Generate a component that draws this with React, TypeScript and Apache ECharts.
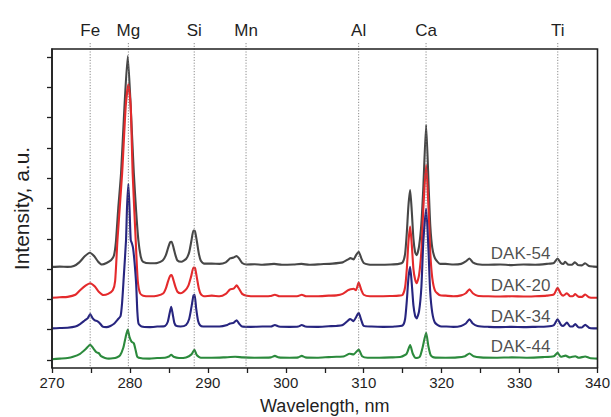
import React, { useEffect, useRef } from 'react';
import * as echarts from 'echarts';

const FONT = '"Liberation Sans", Arial, Helvetica, sans-serif';

const SERIES_NAMES = ['DAK-54', 'DAK-20', 'DAK-34', 'DAK-44'];
const SERIES_COLORS = ['#474747', '#e42a2c', '#27257f', '#2b8a3c'];

const ELEMENT_NAMES = ['Fe', 'Mg', 'Si', 'Mn', 'Al', 'Ca', 'Ti'];
const ELEMENT_LINES = [274.9, 279.8, 288.25, 294.9, 309.35, 318.0, 334.9];

const X_MIN = 270;
const X_MAX = 340;
const Y_MIN = -0.27;
const Y_MAX = 10.27;
const Y_TICKS = [0, 1, 2, 3, 4, 5, 6, 7, 8, 9, 10];

// Labels: [wavelength at right edge, intensity at text centre]
const LABEL_X = 333.95;
const LABEL_Y = [3.52, 2.47, 1.42, 0.43];

const DAK54: [number, number][] = [
  [270, 3.07], [271, 3.08], [272, 3.07], [272.8, 3.1], [273.5, 3.22], [274.2, 3.42], [274.85, 3.54],
  [275.4, 3.43], [275.9, 3.25], [276.4, 3.15], [277.0, 3.2], [277.6, 3.3], [277.95, 3.45], [278.2, 3.9],
  [278.5, 5.0], [278.86, 6.16], [279.3, 8.37], [279.72, 10.04], [280.1, 8.37], [280.5, 6.16],
  [280.8, 4.9], [281.08, 3.96], [281.4, 3.4], [281.7, 3.24], [282.6, 3.19], [283.5, 3.2], [284.2, 3.28],
  [284.6, 3.45], [284.9, 3.7], [285.15, 3.88], [285.35, 3.9], [285.6, 3.7], [285.85, 3.45], [286.1, 3.28],
  [286.6, 3.24], [287.2, 3.33], [287.6, 3.55], [287.9, 3.95], [288.15, 4.27], [288.35, 4.25], [288.6, 3.9],
  [288.85, 3.5], [289.1, 3.27], [289.5, 3.18], [290.5, 3.18], [291.5, 3.17], [292.3, 3.22],
  [292.85, 3.35], [293.3, 3.38], [293.7, 3.43], [294.0, 3.35], [294.4, 3.2], [295, 3.15], [296, 3.16],
  [297, 3.14], [298.5, 3.17], [299.5, 3.14], [301, 3.15], [302, 3.17], [303, 3.14], [304.5, 3.16],
  [306, 3.18], [307.3, 3.22], [308.0, 3.32], [308.3, 3.36], [308.7, 3.32], [309.0, 3.45], [309.35, 3.57],
  [309.7, 3.35], [310.0, 3.2], [310.6, 3.15], [312, 3.14], [313.5, 3.15], [314.5, 3.17], [315.0, 3.22],
  [315.31, 3.5], [315.53, 4.2], [315.74, 5.1], [315.96, 5.61], [316.17, 4.9], [316.38, 4.0], [316.6, 3.55],
  [316.8, 3.46], [317.1, 3.75], [317.4, 4.5], [317.65, 5.7], [318.01, 7.76], [318.35, 5.6], [318.55, 4.4],
  [318.8, 3.7], [319.16, 3.35], [319.8, 3.17], [320.5, 3.17], [321.5, 3.15], [322.5, 3.17], [323.1, 3.25],
  [323.57, 3.35], [324.0, 3.22], [324.6, 3.16], [326, 3.14], [327.5, 3.15], [329, 3.13], [330.5, 3.15],
  [332, 3.14], [333.5, 3.17], [334.4, 3.2], [334.87, 3.35], [335.3, 3.2], [335.6, 3.17], [335.85, 3.24],
  [336.2, 3.15], [336.7, 3.14], [337.1, 3.22], [337.5, 3.13], [338.0, 3.12], [338.4, 3.19], [338.9, 3.1],
  [339.5, 3.08], [340, 3.07],
];

const DAK20: [number, number][] = [
  [270, 2.05], [271, 2.07], [272, 2.08], [273, 2.15], [273.6, 2.3], [274.3, 2.45], [274.9, 2.53],
  [275.5, 2.42], [276.0, 2.25], [276.6, 2.14], [277.2, 2.18], [277.8, 2.3], [278.1, 2.6], [278.4, 3.96],
  [279.0, 6.16], [279.46, 8.37], [279.8, 9.1], [280.1, 8.37], [280.35, 6.16], [280.74, 3.96], [281.0, 2.63],
  [281.3, 2.2], [281.7, 2.12], [282.6, 2.1], [283.5, 2.12], [284.3, 2.2], [284.6, 2.35], [284.9, 2.6],
  [285.15, 2.77], [285.35, 2.8], [285.6, 2.62], [285.85, 2.4], [286.1, 2.25], [286.5, 2.2], [287.1, 2.3],
  [287.5, 2.45], [287.85, 2.75], [288.15, 3.05], [288.35, 3.04], [288.6, 2.7], [288.85, 2.35],
  [289.1, 2.17], [289.5, 2.1], [290.5, 2.12], [291.5, 2.1], [292.3, 2.18], [292.85, 2.33], [293.3, 2.35],
  [293.7, 2.46], [294.0, 2.35], [294.4, 2.18], [295, 2.12], [296.5, 2.1], [298, 2.11], [298.6, 2.15],
  [299.2, 2.1], [300.5, 2.1], [301.6, 2.11], [302.05, 2.15], [302.6, 2.1], [304, 2.1], [305.5, 2.12],
  [306.5, 2.13], [307.3, 2.18], [308.0, 2.3], [308.3, 2.33], [308.7, 2.35], [309.0, 2.3], [309.35, 2.55],
  [309.7, 2.3], [310.0, 2.15], [310.8, 2.1], [312, 2.1], [313.5, 2.11], [314.5, 2.12], [315.0, 2.15],
  [315.31, 2.4], [315.53, 3.0], [315.74, 3.9], [315.96, 4.4], [316.17, 3.8], [316.38, 3.0], [316.6, 2.65],
  [316.8, 2.53], [317.1, 2.8], [317.4, 3.6], [317.65, 5.0], [318.01, 6.44], [318.35, 4.8], [318.55, 3.5],
  [318.8, 2.7], [319.16, 2.28], [319.8, 2.13], [320.5, 2.12], [321.5, 2.1], [322.5, 2.13], [323.1, 2.2],
  [323.57, 2.33], [324.0, 2.2], [324.6, 2.12], [326, 2.1], [327.5, 2.09], [329, 2.1], [330.5, 2.09],
  [332, 2.1], [333.5, 2.12], [334.4, 2.16], [334.87, 2.38], [335.3, 2.18], [335.6, 2.12], [336.07, 2.2],
  [336.5, 2.1], [336.8, 2.1], [337.14, 2.17], [337.6, 2.08], [338.0, 2.08], [338.42, 2.16], [338.9, 2.07],
  [339.5, 2.05], [340, 2.05],
];

const DAK34: [number, number][] = [
  [270, 1.04], [271, 1.05], [272, 1.06], [273, 1.1], [273.6, 1.18], [274.2, 1.3], [274.6, 1.38],
  [274.9, 1.51], [275.2, 1.38], [275.5, 1.3], [275.8, 1.28], [276.1, 1.22], [276.5, 1.1], [277.0, 1.08],
  [277.5, 1.12], [278.0, 1.2], [278.4, 1.32], [278.8, 1.45], [279.0, 1.9], [279.2, 2.7], [279.5, 3.96],
  [279.63, 5.06], [279.8, 5.81], [279.95, 5.0], [280.1, 3.96], [280.25, 3.85], [280.4, 3.7], [280.6, 3.2],
  [280.8, 2.5], [280.95, 1.6], [281.1, 1.2], [281.5, 1.1], [282.5, 1.08], [283.5, 1.1], [284.5, 1.12],
  [284.85, 1.25], [285.1, 1.55], [285.3, 1.75], [285.5, 1.5], [285.7, 1.22], [285.95, 1.12], [286.5, 1.1],
  [287.2, 1.15], [287.6, 1.35], [287.9, 1.75], [288.15, 2.12], [288.3, 2.15], [288.5, 1.7], [288.75, 1.28],
  [289.0, 1.14], [289.4, 1.1], [290.5, 1.1], [291.5, 1.1], [292.5, 1.15],
  [292.85, 1.2], [293.3, 1.22], [293.7, 1.31], [294.0, 1.2], [294.4, 1.1], [295.5, 1.09], [297, 1.1],
  [298.1, 1.1], [298.6, 1.15], [299.1, 1.1], [300.5, 1.09], [301.6, 1.1], [302.05, 1.15], [302.5, 1.1],
  [304, 1.09], [305.5, 1.11], [306.5, 1.12], [307.3, 1.15], [308.0, 1.3], [308.25, 1.35], [308.7, 1.28],
  [309.0, 1.4], [309.35, 1.55], [309.7, 1.3], [310.0, 1.12], [311, 1.1], [312.5, 1.09], [314, 1.1],
  [315.0, 1.14], [315.31, 1.35], [315.53, 1.95], [315.74, 2.7], [315.96, 3.07], [316.17, 2.5], [316.38, 1.8],
  [316.6, 1.45], [316.8, 1.37], [317.1, 1.6], [317.4, 2.4], [317.65, 3.9], [318.01, 5.0], [318.3, 3.7],
  [318.52, 2.3], [318.8, 1.55], [319.16, 1.22], [319.8, 1.11], [320.5, 1.1], [321.5, 1.09], [322.5, 1.12],
  [323.1, 1.2], [323.57, 1.34], [324.0, 1.2], [324.6, 1.12], [326, 1.09], [327.5, 1.08], [329, 1.09],
  [330.5, 1.08], [332, 1.09], [333.5, 1.1], [334.4, 1.15], [334.87, 1.34], [335.3, 1.16], [335.6, 1.12],
  [336.07, 1.23], [336.5, 1.1], [336.8, 1.1], [337.14, 1.18], [337.6, 1.07], [338.0, 1.07], [338.42, 1.16],
  [338.9, 1.06], [339.5, 1.04], [340, 1.04],
];

const DAK44: [number, number][] = [
  [270, 0.02], [271, 0.04], [272, 0.06], [272.7, 0.1], [273.6, 0.2], [274.3, 0.35], [274.9, 0.5],
  [275.3, 0.38], [275.7, 0.25], [276.0, 0.22], [276.3, 0.12], [276.8, 0.06], [277.3, 0.04], [277.8, 0.05],
  [278.3, 0.08], [278.73, 0.15], [279.15, 0.4], [279.45, 0.75], [279.72, 1.0], [279.95, 0.75], [280.2, 0.6],
  [280.5, 0.55], [280.75, 0.3], [280.95, 0.1], [281.5, 0.05], [282.5, 0.04], [283.5, 0.06], [284.5, 0.07],
  [285.0, 0.11], [285.3, 0.17], [285.6, 0.1], [286.3, 0.06], [287.2, 0.08], [287.9, 0.18], [288.27, 0.33],
  [288.6, 0.15], [289.1, 0.07], [290.5, 0.07], [292, 0.08], [293.5, 0.1], [294.5, 0.08], [296, 0.07],
  [298.1, 0.08], [298.6, 0.13], [299.1, 0.08], [300.5, 0.07], [301.6, 0.08], [302.05, 0.13], [302.5, 0.08],
  [304, 0.07], [305.5, 0.09], [306.5, 0.1], [307.5, 0.12], [308.2, 0.2], [308.7, 0.18], [309.35, 0.34],
  [309.8, 0.12], [310.5, 0.07], [312, 0.07], [313.5, 0.08], [314.8, 0.1], [315.5, 0.2], [315.96, 0.49],
  [316.3, 0.2], [316.7, 0.06], [317.2, 0.1], [317.55, 0.4], [318.01, 0.89], [318.3, 0.45], [318.6, 0.15],
  [319.0, 0.08], [320.5, 0.07], [322, 0.08], [323.0, 0.12], [323.57, 0.21], [324.1, 0.12], [325, 0.08],
  [327, 0.07], [329, 0.08], [331, 0.07], [333, 0.09], [334.4, 0.12], [334.87, 0.23], [335.3, 0.1],
  [335.9, 0.14], [336.4, 0.08], [337.14, 0.12], [337.6, 0.07], [338.42, 0.11], [339, 0.06], [340, 0.04],
];

const SERIES_DATA = [DAK54, DAK20, DAK34, DAK44];

export default function App() {
  const ref = useRef<HTMLDivElement>(null);

  useEffect(() => {
    document.body.style.margin = '0';
    const chart = echarts.init(ref.current!, null, { renderer: 'svg' });

    const series: any[] = SERIES_NAMES.map((name, i) => ({
      name,
      type: 'line',
      data: SERIES_DATA[i],
      showSymbol: false,
      symbol: 'none',
      smooth: 0.2,
      lineStyle: { color: SERIES_COLORS[i], width: 2.1 },
      itemStyle: { color: SERIES_COLORS[i] },
      z: 2,
    }));

    series.push({
      name: 'labels',
      type: 'scatter',
      symbolSize: 0,
      silent: true,
      data: SERIES_NAMES.map((n, i) => ({ name: n, value: [LABEL_X, LABEL_Y[i]] })),
      label: {
        show: true,
        position: 'left',
        distance: 0,
        formatter: (p: any) => p.name,
        fontSize: 17,
        color: '#1f1f1f',
        fontFamily: FONT,
      },
      z: 4,
    });

    chart.setOption({
      animation: false,
      backgroundColor: '#ffffff',
      textStyle: { fontFamily: FONT },
      grid: {
        left: 52,
        right: 13.5,
        top: 49,
        bottom: 49,
        containLabel: false,
        outerBoundsMode: 'none',
      },
      xAxis: {
        type: 'value',
        min: X_MIN,
        max: X_MAX,
        interval: 10,
        axisLine: { show: true, onZero: false, lineStyle: { color: '#1f1f1f', width: 1.5 } },
        axisTick: { show: true, inside: false, length: 5, lineStyle: { color: '#1f1f1f', width: 1.3 } },
        minorTick: { show: true, splitNumber: 2, length: 5, lineStyle: { color: '#1f1f1f', width: 1.3 } },
        axisLabel: { fontSize: 15, color: '#1f1f1f', margin: 7, fontFamily: FONT },
        splitLine: { show: false },
        minorSplitLine: { show: false },
        name: 'Wavelength, nm',
        nameLocation: 'middle',
        nameGap: 29,
        nameTextStyle: { fontSize: 18, color: '#1f1f1f', fontFamily: FONT },
      },
      yAxis: {
        type: 'value',
        min: Y_MIN,
        max: Y_MAX,
        axisLine: { show: true, onZero: false, lineStyle: { color: '#1f1f1f', width: 1.5 } },
        axisTick: {
          show: true,
          inside: false,
          length: 5,
          customValues: Y_TICKS,
          lineStyle: { color: '#1f1f1f', width: 1.3 },
        },
        axisLabel: { show: false },
        splitLine: { show: false },
        name: 'Intensity, a.u.',
        nameLocation: 'middle',
        nameGap: 20,
        nameTextStyle: { fontSize: 21, color: '#1f1f1f', fontFamily: FONT },
      },
      series,
    });

    // Frame, element reference lines and their labels, placed through the axes' own scales.
    const finder = { xAxisIndex: 0, yAxisIndex: 0 };
    const tl = chart.convertToPixel(finder, [X_MIN, Y_MAX]) as number[];
    const br = chart.convertToPixel(finder, [X_MAX, Y_MIN]) as number[];
    const graphics: any[] = [];
    ELEMENT_NAMES.forEach((n, i) => {
      const px = (chart.convertToPixel(finder, [ELEMENT_LINES[i], Y_MIN]) as number[])[0];
      graphics.push({
        type: 'line',
        silent: true,
        z: 5,
        shape: { x1: px, y1: tl[1] - 6, x2: px, y2: br[1] },
        style: { stroke: '#6e6e6e', lineWidth: 0.8, lineDash: [1.2, 1.6] },
      });
      graphics.push({
        type: 'text',
        silent: true,
        z: 6,
        x: px,
        y: tl[1] - 19,
        style: {
          text: n,
          fontSize: 17,
          fontFamily: FONT,
          fill: '#1f1f1f',
          textAlign: 'center',
          textVerticalAlign: 'middle',
        },
      });
    });
    // frame: left, top and right edges in one open polyline
    graphics.push({
      type: 'polyline',
      silent: true,
      z: 7,
      shape: {
        points: [
          [tl[0], br[1]],
          [tl[0], tl[1]],
          [br[0], tl[1]],
          [br[0], br[1]],
        ],
      },
      style: { stroke: '#1f1f1f', lineWidth: 1.6, fill: 'none', lineJoin: 'miter' },
    });
    chart.setOption({ graphic: graphics });

    return () => chart.dispose();
  }, []);

  return (
    <div
      ref={ref}
      style={{ position: 'absolute', left: 0, top: 0, width: 611, height: 417, background: '#fff' }}
    />
  );
}
